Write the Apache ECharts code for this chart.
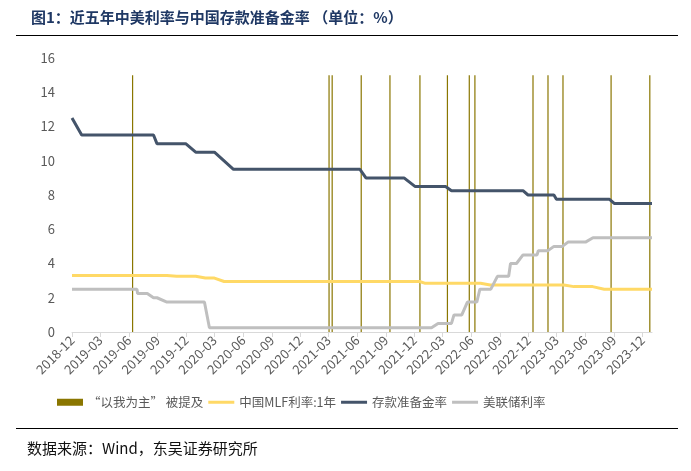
<!DOCTYPE html>
<html>
<head>
<meta charset="utf-8">
<script src="https://cdn.jsdelivr.net/npm/echarts@6/dist/echarts.min.js"></script>
<style>
html,body{margin:0;padding:0;background:#fff;}
#chart{width:691px;height:471px;}
</style>
</head>
<body>
<div id="chart"></div>
<script>
const titleText = '图1：近五年中美利率与中国存款准备金率 （单位：%）';
const sourceText = '数据来源：Wind，东吴证券研究所';
const seriesNames = ['“以我为主” 被提及', '中国MLF利率:1年', '存款准备金率', '美联储利率'];

const tickLabels = ['2018-12','2019-03','2019-06','2019-09','2019-12','2020-03','2020-06','2020-09','2020-12',
  '2021-03','2021-06','2021-09','2021-12','2022-03','2022-06','2022-09','2022-12','2023-03','2023-06','2023-09','2023-12'];
const axisStart = '2018-12-01';
const axisEnd = '2024-01-01';
const yTicks = [0, 2, 4, 6, 8, 10, 12, 14, 16];

// dates when "以我为主" was mentioned (drawn as thin bars of height 15)
const mentionDates = ['2019-06-13','2021-03-03','2021-03-13','2021-06-14','2021-09-14','2021-12-19','2022-03-17',
  '2022-05-26','2022-06-13','2022-12-16','2023-02-02','2023-03-22','2023-08-23','2023-12-25'];
const mentionHeight = 15;

const mlfData = [['2018-12-01',3.3],['2019-10-01',3.3],['2019-11-01',3.25],['2020-01-01',3.25],['2020-02-01',3.15],
  ['2020-03-01',3.15],['2020-04-01',2.95],['2021-12-18',2.95],['2022-01-03',2.85],['2022-07-01',2.85],['2022-08-01',2.75],
  ['2023-03-25',2.75],['2023-04-26',2.65],['2023-06-25',2.65],['2023-08-01',2.5],['2024-01-01',2.5]];

const rrrData = [['2018-12-01',12.5],['2019-01-01',11.5],['2019-08-19',11.5],['2019-08-30',11.0],['2019-11-30',11.0],
  ['2020-01-01',10.5],['2020-03-01',10.5],['2020-05-01',9.5],['2021-06-10',9.5],['2021-06-29',9.0],['2021-10-29',9.0],
  ['2021-12-03',8.5],['2022-03-11',8.5],['2022-03-30',8.25],['2022-11-14',8.25],['2022-11-30',8.0],['2023-02-21',8.0],
  ['2023-03-01',7.75],['2023-08-18',7.75],['2023-09-03',7.5],['2024-01-01',7.5]];

const fedData = [['2018-12-01',2.5],['2019-06-27',2.5],['2019-06-29',2.25],['2019-07-30',2.25],['2019-08-19',2.0],
  ['2019-08-30',2.0],['2019-10-01',1.75],['2020-01-29',1.75],['2020-02-14',0.25],['2022-01-25',0.25],['2022-02-15',0.5],
  ['2022-03-30',0.5],['2022-04-07',1.0],['2022-05-02',1.0],['2022-05-20',1.75],['2022-06-19',1.75],['2022-06-29',2.5],
  ['2022-08-03',2.5],['2022-08-24',3.25],['2022-09-29',3.25],['2022-10-05',4.0],['2022-10-24',4.0],['2022-11-14',4.5],
  ['2022-12-29',4.5],['2023-01-02',4.75],['2023-02-02',4.75],['2023-02-21',5.0],['2023-03-20',5.0],['2023-04-07',5.25],
  ['2023-06-02',5.25],['2023-06-26',5.5],['2024-01-01',5.5]];

function toTs(s) {
  const p = s.split('-').map(Number);
  return Date.UTC(p[0], p[1] - 1, p[2] || 1);
}
const tickValues = tickLabels.map(toTs);
const tickMap = {};
tickValues.forEach((v, i) => { tickMap[v] = tickLabels[i]; });
const conv = arr => arr.map(d => [toTs(d[0]), d[1]]);

const chart = echarts.init(document.getElementById('chart'), null, {renderer: 'canvas'});
const labelColor = '#595959';
const font = '"Noto Sans CJK SC", "Noto Sans", sans-serif';
const lineIcon = 'path://M0,0H26V3H0Z';

const option = {
  backgroundColor: '#fff',
  animation: false,
  textStyle: {fontFamily: font},
  title: {
    text: titleText,
    left: 26, top: 5,
    textStyle: {fontSize: 15, fontWeight: 'bold', color: '#1F3864', fontFamily: font}
  },
  graphic: [
    {type: 'line', shape: {x1: 16, y1: 35.5, x2: 678, y2: 35.5}, style: {stroke: '#000', lineWidth: 1}},
    {type: 'line', shape: {x1: 16, y1: 428.5, x2: 678, y2: 428.5}, style: {stroke: '#000', lineWidth: 1}},
    {type: 'text', left: 27, top: 441, style: {text: sourceText, fontSize: 15, fill: '#111', fontFamily: font}}
  ],
  grid: {left: 72, right: 39, top: 58, bottom: 139},
  legend: {
    left: 52, top: 391,
    itemWidth: 26, itemHeight: 7, itemGap: 5,
    symbolKeepAspect: true,
    textStyle: {fontSize: 12.5, color: labelColor, fontFamily: font},
    data: [
      {name: seriesNames[0], icon: 'rect'},
      {name: seriesNames[1], icon: lineIcon},
      {name: seriesNames[2], icon: lineIcon},
      {name: seriesNames[3], icon: lineIcon}
    ]
  },
  xAxis: {
    type: 'value',
    min: toTs(axisStart),
    max: toTs(axisEnd),
    axisLine: {show: true, lineStyle: {color: '#D9D9D9', width: 1}},
    axisTick: {show: true, length: 5, lineStyle: {color: '#D9D9D9'}, customValues: tickValues},
    axisLabel: {
      customValues: tickValues,
      rotate: 45, fontSize: 13, color: labelColor, margin: 6,
      hideOverlap: false,
      formatter: v => tickMap[v] || ''
    },
    splitLine: {show: false}
  },
  yAxis: {
    type: 'value',
    min: yTicks[0], max: yTicks[yTicks.length - 1], interval: 2,
    axisLine: {show: false},
    axisTick: {show: false},
    splitLine: {show: false},
    axisLabel: {fontSize: 13, color: labelColor, margin: 17}
  },
  series: [
    {
      name: seriesNames[0], type: 'bar',
      data: mentionDates.map(d => [toTs(d), mentionHeight]),
      barWidth: 1.2,
      itemStyle: {color: '#8A7600'},
      z: 1
    },
    {
      name: seriesNames[1], type: 'line', data: conv(mlfData),
      showSymbol: false, symbol: 'none',
      lineStyle: {color: '#FFD966', width: 3}, itemStyle: {color: '#FFD966'}, z: 3
    },
    {
      name: seriesNames[2], type: 'line', data: conv(rrrData),
      showSymbol: false, symbol: 'none',
      lineStyle: {color: '#44546A', width: 3}, itemStyle: {color: '#44546A'}, z: 3
    },
    {
      name: seriesNames[3], type: 'line', data: conv(fedData),
      showSymbol: false, symbol: 'none',
      lineStyle: {color: '#BFBFBF', width: 3}, itemStyle: {color: '#BFBFBF'}, z: 3
    }
  ]
};
chart.setOption(option);
</script>
</body>
</html>
